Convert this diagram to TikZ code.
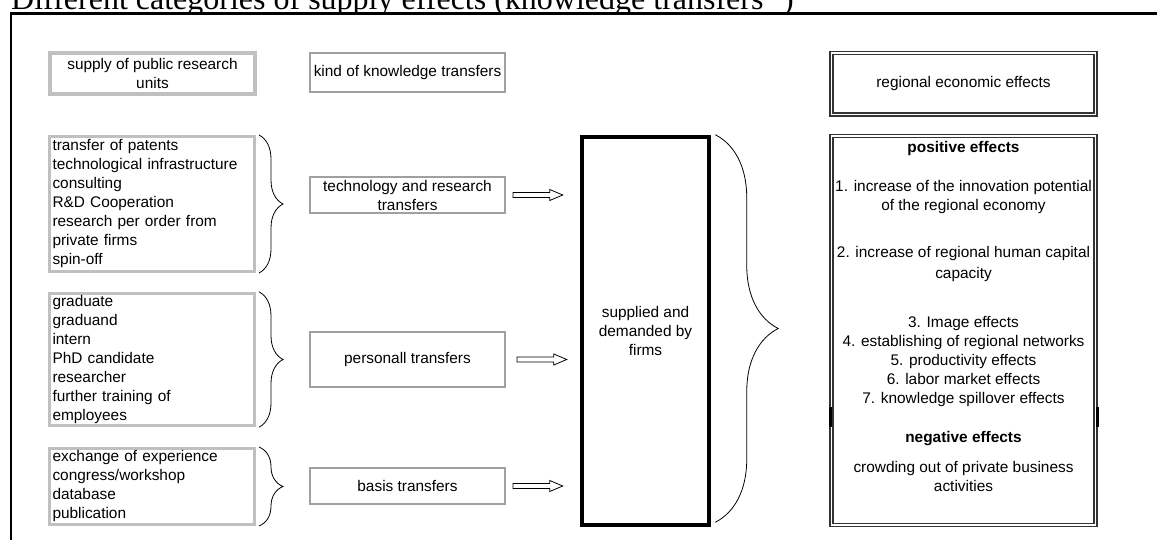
\documentclass[tikz,border=0pt]{standalone}
\usepackage{fontspec}
\setmainfont{Liberation Sans}
\newfontfamily\titlefont{Liberation Serif}
\usetikzlibrary{calc, decorations.pathreplacing}
\definecolor{boxgray}{HTML}{C0C0C0}
\definecolor{linegray}{HTML}{A0A0A0}
\definecolor{darkline}{HTML}{333333}
\newcommand{\boxfont}{\fontsize{15.4}{19}\selectfont}
\tikzset{
  x=1pt, y=-1pt, % one unit is one pixel of the page, y runs down
  every node/.style={font=\boxfont, inner sep=2pt}, % same text in all the boxes
  unitbox/.style={draw=boxgray, line width=4pt, align=center}, % thick grey box
  listbox/.style={draw=boxgray, line width=3pt, minimum width=205, text width=199, align=left}, % left column
  kindbox/.style={draw=linegray, line width=2pt, minimum width=195, align=center}, % kinds of transfers
  firmbox/.style={draw, line width=4.5pt, minimum width=127, minimum height=388, align=center}, % firms
  effectbox/.style={draw=darkline, double, double distance=1.5pt, line width=1.5pt, minimum width=264}, % double frame
  curly/.style={decorate, decoration={brace, amplitude=#1}, line width=0.8pt}, % braces
  hollow arrow/.style={draw, line width=0.8pt, to path={
      let \p1=(\tikztostart), \p2=(\tikztotarget) in
      (\x1,\y1+2.5pt) -- (\x2-13pt,\y1+2.5pt) -- (\x2-13pt,\y1+5.5pt) -- (\x2,\y1)
      -- (\x2-13pt,\y1-5.5pt) -- (\x2-13pt,\y1-2.5pt) -- (\x1,\y1-2.5pt) -- cycle}}, % outlined arrow
}

\begin{document}
\begin{tikzpicture}
  \useasboundingbox (0,0) rectangle (1157,540);

  \node[font=\titlefont\fontsize{32}{36}\selectfont, anchor=base west, inner sep=0] (title) at (11,10)
    {Different categories of supply effects (knowledge transfers \textsuperscript{1})};
  \draw[line width=2.5, fill=white] (11,13.5) rectangle (1200,600);

  % headings
  \node[unitbox, minimum width=205, minimum height=41] (supply) at (152.5,73.5) {supply of public research\\units};
  \node[kindbox, minimum height=39] (kind) at (407.5,72.5) {kind of knowledge transfers};
  \node[effectbox, minimum height=61.5, align=center] (regional) at (963.5,84) {regional economic effects};

  % supply of the research units
  \node[listbox, minimum height=135] (tlist) at (152,204)
    {transfer of patents\\technological infrastructure\\consulting\\R\&D Cooperation\\research per order from\\private firms\\spin-off};
  \node[listbox, minimum height=132] (plist) at (152,359.5)
    {graduate\\graduand\\intern\\PhD candidate\\researcher\\further training of\\employees};
  \node[listbox, minimum height=76] (blist) at (152,486.5)
    {exchange of experience\\congress/workshop\\database\\publication};

  % kinds of transfers
  \node[kindbox, minimum height=36] (tech) at (407.5,195) {technology and research\\transfers};
  \node[kindbox, minimum height=55] (pers) at (407.5,359.5) {personall transfers};
  \node[kindbox, minimum height=36] (basis) at (407.5,486) {basis transfers};

  \node[firmbox] (firms) at (645.5,331) {supplied and\\demanded by\\firms};

  % effects
  \node[effectbox, minimum height=388.5] (effects) at (963.5,330.5) {};
  \node[align=center, anchor=north, inner sep=0] (effectlist) at ([yshift=-5.5]effects.north)
    {\textbf{positive effects}\\[20pt]
     1. increase of the innovation potential\\of the regional economy\\[28pt]
     2. increase of regional human capital\\[2pt]capacity\\[30pt]
     3. Image effects\\4. establishing of regional networks\\5. productivity effects\\
     6. labor market effects\\7. knowledge spillover effects\\[20pt]
     \textbf{negative effects}\\[11pt]
     crowding out of private business\\activities};
  \draw[line width=3] (830,407) -- (830,427) (1097,407) -- (1097,427);

  \draw[curly=24] ([xshift=3]tlist.north east) -- ([xshift=3]tlist.south east);
  \draw[curly=24] ([xshift=3]plist.north east) -- ([xshift=3]plist.south east);
  \draw[curly=24] ([xshift=3]blist.north east) -- ([xshift=3]blist.south east);
  \draw[curly=63] ([xshift=4]firms.north east) -- ([xshift=4,yshift=5]firms.south east);

  \draw[hollow arrow] ([xshift=7]tech.east) to ([xshift=-17]firms.west);
  \draw[hollow arrow] ([xshift=11]pers.east) to ([xshift=-13]firms.west);
  \draw[hollow arrow] ([xshift=7]basis.east) to ([xshift=-17]firms.west);
\end{tikzpicture}
\end{document}
